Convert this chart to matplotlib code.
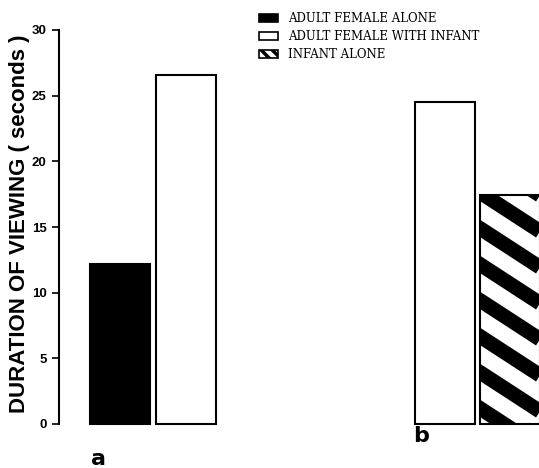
"""Duration of viewing bar chart."""
import matplotlib

matplotlib.use("Agg")
import matplotlib.pyplot as plt
import matplotlib.transforms as mtransforms
import numpy
from matplotlib.patches import Patch

CONDITIONS = [
    "ADULT FEMALE ALONE",
    "ADULT FEMALE WITH INFANT",
    "INFANT ALONE",
]
GROUPS = ["a", "b"]
# (condition index, value) per group
GROUP_A = [(0, 12.2), (1, 26.6)]
GROUP_B = [(1, 24.5), (2, 17.4)]
YTICKS = [0, 5, 10, 15, 20, 25, 30]

STYLES = {
    0: dict(facecolor="black", hatch=None),
    1: dict(facecolor="white", hatch=None),
    2: dict(facecolor="white", hatch="stripes"),
}


def add_stripes(ax, bar, period=36, slope=0.65, lw=10.5):
    """Draw thick diagonal stripes clipped to a bar (pixel space)."""
    bb = bar.get_window_extent()
    xs = numpy.array([bb.x0 - 5, bb.x1 + 5])
    start = bb.y1 + slope * (bb.x1 - bb.x0) + period
    k = 0
    while start - k * period > bb.y0 - period:
        ys = start - k * period - slope * (xs - bb.x0)
        line, = ax.plot(xs, ys, color="black", lw=lw,
                        transform=mtransforms.IdentityTransform(),
                        solid_capstyle="butt")
        line.set_clip_path(bar)
        k += 1


if __name__ == "__main__":
    plt.rcParams["hatch.linewidth"] = 2.5
    plt.rcParams["hatch.color"] = "black"

    fig = plt.figure(figsize=(5.39, 4.68), dpi=100)
    ax = fig.add_axes([59 / 539, 1 - 424 / 468, 1 - 59 / 539, (424 - 30) / 468])
    ax.set_xlim(0, 8)
    ax.set_ylim(0, 30)

    width = 1.0
    starts = {"a": 1.02, "b": 6.43}
    striped = []
    for group, data in zip(GROUPS, [GROUP_A, GROUP_B]):
        for i, (cond, val) in enumerate(data):
            st = STYLES[cond]
            bar = ax.bar(
                starts[group] + i * 1.09,
                val,
                width=width,
                facecolor=st["facecolor"],
                edgecolor="black",
                linewidth=1.5,
                clip_on=False,
                zorder=2,
            )[0]
            if st["hatch"] == "stripes":
                striped.append(bar)

    for bar in striped:
        add_stripes(ax, bar)

    ax.set_yticks(YTICKS)
    ax.set_yticklabels([str(t) for t in YTICKS], fontsize=9.5,
                       fontweight="bold", family="Liberation Sans")
    ax.tick_params(axis="y", direction="out", length=5, width=1.2, pad=4)
    ax.set_xticks([])
    for side in ["top", "right", "bottom"]:
        ax.spines[side].set_visible(False)
    ax.spines["left"].set_linewidth(1.5)

    fig.text(20 / 539, 1 - 224 / 468, "DURATION OF VIEWING ( seconds )",
             fontsize=16, fontweight="bold", family="Liberation Sans",
             rotation=90, ha="center", va="center")

    fig.text(98 / 539, 1 - 459 / 468, "a", fontsize=16, fontweight="bold",
             ha="center", va="center")
    fig.text(421 / 539, 1 - 436 / 468, "b", fontsize=16, fontweight="bold",
             ha="center", va="center")

    handles = [
        Patch(facecolor=STYLES[i]["facecolor"], edgecolor="black",
              hatch="\\\\\\" if STYLES[i]["hatch"] else None, linewidth=1.2)
        for i in range(len(CONDITIONS))
    ]
    fig.legend(
        handles,
        CONDITIONS,
        loc="upper left",
        bbox_to_anchor=(259 / 539, 1 - 12 / 468),
        frameon=False,
        prop={"family": "DejaVu Serif", "size": 8.5},
        handlelength=1.6,
        handleheight=0.6,
        labelspacing=0.42,
        handletextpad=0.85,
        borderpad=0,
        borderaxespad=0,
    )

    plt.savefig("out.png", dpi=100)
